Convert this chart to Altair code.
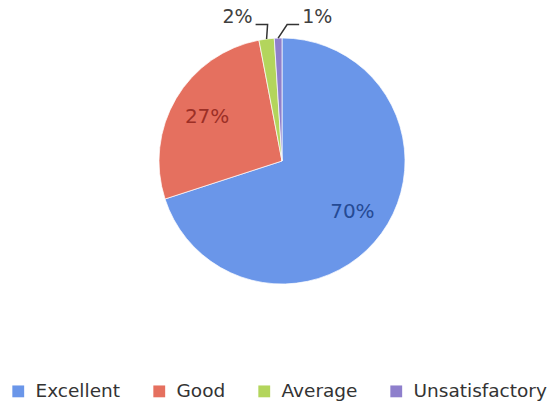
import altair as alt
import numpy as np
import pandas as pd

# ---- data ----
categories = ["Excellent", "Good", "Average", "Unsatisfactory"]
values = [70, 27, 2, 1]
slice_colors = ["#6a96e9", "#e5705f", "#b3d55c", "#8e7fcc"]
label_colors = ["#254a94", "#9c2f26", "#404040", "#404040"]
outside = [False, False, True, True]
side = [0, 0, -1, 1]  # direction of the leader line for outside labels

# ---- layout / style ----
W, H = 549, 410
CX, CY, R = 282, 161, 123
FONT = "DejaVu Sans"
ELBOW_R = 1.11
ELBOW_SHIFT = {-1: 1, 1: 9}
HSEG = 12

labels = [f"{v}%" for v in values]
df = pd.DataFrame({
    "category": categories,
    "value": values,
    "order": list(range(len(values))),
    "inside_label": [l if not o else "" for l, o in zip(labels, outside)],
    "label_color": label_colors,
})

# leader lines for small slices, derived from slice mid-angles
vals = np.array(values, dtype=float)
cum = np.cumsum(vals)
mid = (cum - vals / 2) / vals.sum() * 2 * np.pi
line_rows, text_rows = [], []
for i, cat in enumerate(categories):
    if not outside[i]:
        continue
    s = side[i]
    ex = CX + R * np.sin(mid[i])
    ey = CY - R * np.cos(mid[i])
    bx = ex + ELBOW_SHIFT[s]
    by = CY - R * ELBOW_R
    tx = bx + s * HSEG
    for k, (px, py) in enumerate([(ex, ey), (bx, by), (tx, by)]):
        line_rows.append({"category": cat, "k": k, "x": px, "y": py})
    text_rows.append({"category": cat, "label": labels[i], "x": tx + s * 3, "y": by - 7, "side": s})
lines_df = pd.DataFrame(line_rows)
text_df = pd.DataFrame(text_rows)

xs = alt.Scale(domain=[0, W], range=[0, W])
ys = alt.Scale(domain=[0, H], range=[0, H])

arc = alt.Chart(df).mark_arc(outerRadius=R, stroke="white", strokeWidth=0.7).encode(
    theta=alt.Theta("value:Q", stack=True),
    order=alt.Order("order:Q"),
    color=alt.Color(
        "category:N",
        sort=categories,
        scale=alt.Scale(domain=categories, range=slice_colors),
        legend=alt.Legend(
            title=None, orient="none", legendX=9, legendY=382,
            direction="horizontal", symbolType="square", symbolSize=140,
            symbolStrokeWidth=0, labelFont=FONT, labelFontSize=18.5,
            labelColor="#333333", labelOffset=8, columnPadding=29,
        ),
    ),
    x=alt.value(CX),
    y=alt.value(CY),
)

inside_text = alt.Chart(df).mark_text(radius=87, font=FONT, fontSize=20).encode(
    theta=alt.Theta("value:Q", stack=True),
    order=alt.Order("order:Q"),
    text="inside_label:N",
    fill=alt.Fill("label_color:N", scale=None, legend=None),
    x=alt.value(CX),
    y=alt.value(CY),
)

leader = alt.Chart(lines_df).mark_line(color="#333333", strokeWidth=1.5).encode(
    x=alt.X("x:Q", scale=xs, axis=None),
    y=alt.Y("y:Q", scale=ys, axis=None),
    detail="category:N",
    order="k:Q",
)

left_text = alt.Chart(text_df).transform_filter("datum.side < 0").mark_text(
    align="right", baseline="middle", font=FONT, fontSize=19, color="#404040"
).encode(x=alt.X("x:Q", scale=xs, axis=None), y=alt.Y("y:Q", scale=ys, axis=None), text="label:N")

right_text = alt.Chart(text_df).transform_filter("datum.side > 0").mark_text(
    align="left", baseline="middle", font=FONT, fontSize=19, color="#404040"
).encode(x=alt.X("x:Q", scale=xs, axis=None), y=alt.Y("y:Q", scale=ys, axis=None), text="label:N")

chart = alt.layer(arc, inside_text, leader, left_text, right_text).properties(
    width=W, height=H, autosize="none", padding=0, background="white"
).configure_view(stroke=None)

chart.save("out.html", embed_options={"renderer": "svg", "actions": False})
